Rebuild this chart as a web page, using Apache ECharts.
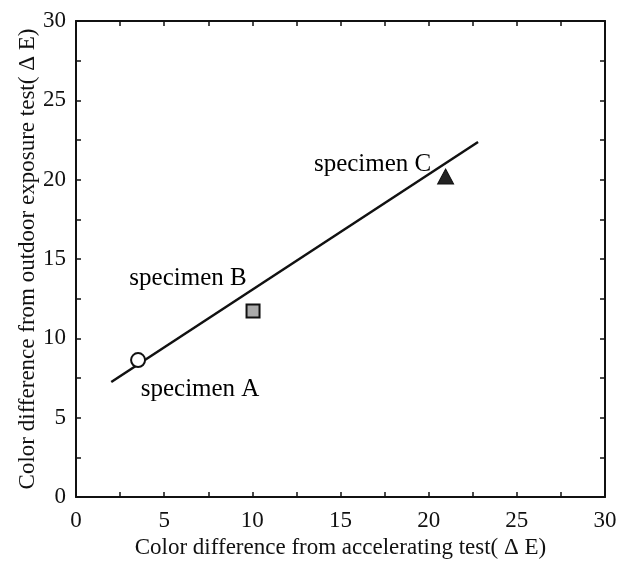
<!DOCTYPE html>
<html>
<head>
<meta charset="utf-8">
<script src="https://cdn.jsdelivr.net/npm/echarts@6/dist/echarts.min.js"></script>
<style>html,body{margin:0;padding:0;background:#fff}#c{width:633px;height:565px}</style>
</head>
<body>
<div id="c"></div>
<script>
const xTicks = [0, 5, 10, 15, 20, 25, 30];
const yTicks = [0, 5, 10, 15, 20, 25, 30];
const fitLine = [[2.0, 7.25], [22.8, 22.37]];
const specimenNames = ['specimen A', 'specimen B', 'specimen C'];
const specimenX = [3.52, 10.04, 20.96];
const specimenY = [8.63, 11.72, 20.2];
const xTitle = 'Color difference from accelerating test( Δ E)';
const yTitle = 'Color difference from outdoor exposure test( Δ E)';

const font = 'Liberation Serif, Times New Roman, serif';
const chart = echarts.init(document.getElementById('c'));
const axisCommon = {
  min: xTicks[0], max: xTicks[xTicks.length - 1], interval: 5,
  axisLine: { show: true, onZero: false, lineStyle: { color: '#111', width: 2 } },
  axisTick: { show: true, inside: true, length: 5, lineStyle: { color: '#111', width: 1.5 } },
  minorTick: { show: true, splitNumber: 2, length: 5, lineStyle: { color: '#111', width: 1.5 } },
  splitLine: { show: false }
};
const labelStyle = { color: '#111', fontFamily: font, fontSize: 23 };

chart.setOption({
  animation: false,
  backgroundColor: '#fff',
  grid: { left: 76, right: 28, top: 21, bottom: 68 },
  xAxis: [
    Object.assign({}, axisCommon, {
      type: 'value', position: 'bottom',
      axisLabel: Object.assign({ margin: 12 }, labelStyle),
      name: xTitle, nameLocation: 'middle', nameGap: 35,
      nameTextStyle: { color: '#111', fontFamily: font, fontSize: 23 }
    }),
    Object.assign({}, axisCommon, { type: 'value', position: 'top', axisLabel: { show: false } })
  ],
  yAxis: [
    Object.assign({}, axisCommon, {
      type: 'value', position: 'left', min: yTicks[0], max: yTicks[yTicks.length - 1],
      axisLabel: Object.assign({ margin: 10 }, labelStyle),
      name: yTitle, nameLocation: 'middle', nameGap: 37, nameRotate: 90, nameMoveOverlap: false,
      nameTextStyle: { color: '#111', fontFamily: font, fontSize: 23 }
    }),
    Object.assign({}, axisCommon, { type: 'value', position: 'right', min: yTicks[0], max: yTicks[yTicks.length - 1], axisLabel: { show: false } })
  ],
  series: [
    {
      type: 'line', data: fitLine, symbol: 'none',
      lineStyle: { color: '#111', width: 2.5 }, z: 2
    },
    {
      type: 'scatter', z: 3,
      emphasis: { disabled: true },
      data: [
        { value: [specimenX[0], specimenY[0]], symbol: 'circle', symbolSize: 14,
          itemStyle: { color: '#fff', borderColor: '#111', borderWidth: 2, opacity: 1 },
          label: { show: true, formatter: specimenNames[0], position: 'bottom', offset: [62, 4] } },
        { value: [specimenX[1], specimenY[1]], symbol: 'rect', symbolSize: 13,
          itemStyle: { color: '#aaa', borderColor: '#111', borderWidth: 2, opacity: 1 },
          label: { show: true, formatter: specimenNames[1], position: 'top', offset: [-65, -8] } },
        { value: [specimenX[2], specimenY[2]], symbol: 'triangle', symbolSize: [16, 15],
          itemStyle: { color: '#222', borderColor: '#111', borderWidth: 1, opacity: 1 },
          label: { show: true, formatter: specimenNames[2], position: 'top', offset: [-73, 13] } }
      ],
      label: { color: '#000', fontFamily: font, fontSize: 25, opacity: 1 }
    }
  ]
});
</script>
</body>
</html>
